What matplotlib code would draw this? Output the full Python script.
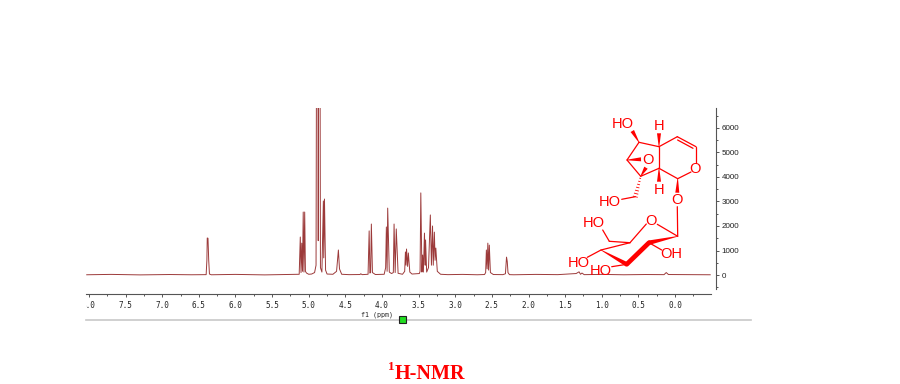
"""1H-NMR spectrum with the structure drawn over it."""
import matplotlib
matplotlib.use("Agg")
import matplotlib.pyplot as plt
import numpy as np
from matplotlib.patches import Polygon, Rectangle
from matplotlib.ticker import MultipleLocator
from matplotlib.transforms import Bbox

# spectrum (ppm descending, intensity)
spec_ppm = [8.03, 7.7, 7.3, 6.9, 6.6, 6.40, 6.39, 6.385, 6.375, 6.365, 6.355, 6.33, 6.0, 5.6, 5.3, 5.13,
            5.115, 5.105, 5.095, 5.085, 5.075, 5.065, 5.055, 5.045, 5.03, 5.00, 4.96, 4.92, 4.90, 4.886, 4.88,
            4.87, 4.858, 4.852, 4.84, 4.82, 4.80, 4.795, 4.785, 4.77, 4.75, 4.67, 4.62, 4.595, 4.58, 4.55,
            4.45, 4.30, 4.29, 4.27, 4.19, 4.175, 4.165, 4.155, 4.145, 4.13, 4.09, 3.97, 3.95, 3.94, 3.93,
            3.922, 3.90, 3.87, 3.845, 3.835, 3.82, 3.805, 3.78, 3.72, 3.69, 3.68, 3.672, 3.665, 3.65, 3.64, 3.62,
            3.59, 3.49, 3.48, 3.47, 3.455, 3.445, 3.435, 3.42, 3.41, 3.405, 3.39, 3.365, 3.34, 3.325, 3.31,
            3.30, 3.285, 3.275, 3.265, 3.245, 3.20, 3.1, 2.9, 2.7, 2.60, 2.585, 2.575, 2.565, 2.555, 2.545,
            2.535, 2.52, 2.48, 2.35, 2.315, 2.30, 2.29, 2.28, 2.26, 2.2, 1.9, 1.6, 1.35, 1.31, 1.29,
            1.27, 1.24, 1.0, 0.7, 0.4, 0.15, 0.12, 0.09, -0.2, -0.48]
spec_int = [10, 25, 5, 20, 10, 15, 600, 1510, 1500, 600, 40, 10, 25, 5, 20, 30,
            1550, 100, 1300, 150, 2570, 120, 2570, 150, 80, 30, 40, 100, 400, 20000, 20000,
            1400, 20000, 20000, 300, 120, 3020, 700, 3100, 200, 40, 30, 150, 1020, 250, 30,
            15, 20, 50, 15, 30, 1800, 80, 100, 2080, 100, 20, 30, 300, 1960, 150,
            2730, 120, 60, 100, 2080, 100, 1880, 70, 30, 150, 940, 400, 1060, 350, 900, 120,
            40, 60, 150, 3350, 120, 816, 120, 1710, 400, 1430, 120, 300, 2450, 400, 2000,
            400, 1750, 600, 1100, 150, 30, 15, 25, 10, 20, 100, 1020, 250, 1300, 200,
            1220, 100, 20, 15, 50, 730, 550, 100, 15, 10, 25, 15, 60, 130, 30,
            80, 15, 25, 10, 20, 15, 100, 20, 15, 10]

x_ticks = [8.0, 7.5, 7.0, 6.5, 6.0, 5.5, 5.0, 4.5, 4.0, 3.5, 3.0, 2.5, 2.0, 1.5, 1.0, 0.5, 0.0]
y_ticks = [0, 1000, 2000, 3000, 4000, 5000, 6000]

W, H = 900, 384
RED = "#ff0000"

fig = plt.figure(figsize=(W / 100, H / 100), dpi=100)
ax = fig.add_axes([86 / W, 1 - 294.3 / H, 625 / W, 186.3 / H])
ax.plot(spec_ppm, spec_int, color="#9c3a3a", linewidth=0.7)
ax.set_xlim(8.04, -0.491)
ax.set_ylim(-787, 6814)

for side in ("top", "left"):
    ax.spines[side].set_visible(False)
ax.spines["bottom"].set_color("#555555")
ax.spines["right"].set_color("#555555")
ax.spines["right"].set_position(("outward", 3.6))
ax.spines["right"].set_bounds(-575, 6814)

ax.set_xticks(x_ticks)
ax.set_xticklabels([f"{t:.1f}" for t in x_ticks], family="DejaVu Sans Mono", fontsize=5.5, color="#222222")
ax.xaxis.set_minor_locator(MultipleLocator(0.25))
ax.tick_params(axis="x", which="major", length=2.5, width=0.7, color="#555555", pad=2)
ax.tick_params(axis="x", which="minor", length=1.2, width=0.7, color="#555555")
ax.yaxis.tick_right()
ax.set_yticks(y_ticks)
ax.set_yticklabels([str(t) for t in y_ticks], family="Liberation Sans", fontsize=5.8, color="#222222")
ax.yaxis.set_minor_locator(MultipleLocator(500))
ax.tick_params(axis="y", which="major", length=2.5, width=0.7, color="#555555", pad=1.5)
ax.tick_params(axis="y", which="minor", length=1.2, width=0.7, color="#555555")

# the leftmost tick label is cut off at the frame edge in the source
first = ax.get_xticklabels()[0]
first.set_clip_box(Bbox([[86, 0], [120, H]]))
first.set_clip_on(True)

# overlay in pixel coordinates for the structure and page furniture
over = fig.add_axes([0, 0, 1, 1], facecolor="none")
over.set_xlim(0, W)
over.set_ylim(H, 0)
over.axis("off")

over.plot([86, 751], [319.5, 319.5], color="#c8c8c8", linewidth=1.2)
over.add_patch(Rectangle((398.5, 316), 7, 6.5, facecolor="#22dd22", edgecolor="#222222", linewidth=0.8, zorder=3))
over.text(377, 315, "f1 (ppm)", family="DejaVu Sans Mono", fontsize=4.8, ha="center", va="center", color="#222222")

over.text(395, 379, "H-NMR", family="Liberation Serif", weight="bold", fontsize=14.5, color=RED, ha="left", va="baseline")
over.text(388, 370, "1", family="Liberation Serif", weight="bold", fontsize=9.5, color=RED, ha="left", va="baseline")

bonds = [
    ((639, 142.3), (659, 146.7)), ((639, 142.3), (627, 160)), ((627, 160), (640.7, 176.3)),
    ((659, 146.7), (659, 168.3)), ((659, 146.7), (677.3, 136.7)), ((677.3, 136.7), (696, 146.7)),
    ((677.6, 140), (693, 148.3)), ((696, 146.7), (696, 163)), ((691, 172), (677.7, 178.7)),
    ((677.7, 178.7), (659, 168.3)), ((659, 168.3), (640.7, 176.3)),
    ((635.3, 196.7), (621.7, 199.3)), ((677.3, 206.7), (677.7, 236.3)),
    ((657.3, 224.3), (677.7, 236.3)), ((646.3, 224), (630, 242.7)), ((630, 242.7), (609.3, 241.3)),
    ((609.3, 241.3), (602.7, 230)), ((630, 242.7), (601, 250)),
    ((649, 242.7), (661.7, 250)), ((626.7, 264.3), (611.7, 266.7)), ((601, 250), (587.3, 257.3)),
]
for p0, p1 in bonds:
    over.plot([p0[0], p1[0]], [p0[1], p1[1]], color=RED, linewidth=0.9, solid_capstyle="round")


def wedge(p0, p1, width, w0=0.3):
    """Filled stereo bond, narrow at p0 and wide at p1."""
    a, b = np.array(p0), np.array(p1)
    n = np.array([-(b - a)[1], (b - a)[0]]) / np.linalg.norm(b - a)
    over.add_patch(Polygon([a + n * w0, a - n * w0, b - n * width / 2, b + n * width / 2], color=RED, linewidth=0))


wedge((639, 142.3), (632.3, 131), 4)
wedge((659, 146.7), (659, 133.3), 4)
wedge((659, 168.3), (659, 181.7), 4)
wedge((627, 160), (641, 159.3), 4)
wedge((640.7, 176.3), (646, 167.7), 4)
wedge((677.7, 178.7), (677.3, 192.7), 4)
wedge((677.7, 236.3), (649, 242.7), 4.5)
wedge((601, 250), (626.7, 264.3), 4.5)
over.plot([649, 626.7], [242.7, 264.3], color=RED, linewidth=3.4, solid_capstyle="round")

# hashed bond down to the CH2OH
g, end = np.array((640.7, 176.3)), np.array((635.3, 196.7))
normal = np.array([-(end - g)[1], (end - g)[0]]) / np.linalg.norm(end - g)
for f in np.linspace(0.1, 1, 7):
    c = g + (end - g) * f
    half = 0.3 + 1.8 * f
    over.plot(*zip(c - normal * half, c + normal * half), color=RED, linewidth=0.6)

labels = [
    (622.7, 123.5, "HO"), (659, 125.5, "H"), (659, 189.5, "H"), (695.3, 169, "O"), (648.3, 160, "O"),
    (610, 202, "HO"), (677.3, 200.3, "O"), (651.3, 220.7, "O"), (593.3, 222.7, "HO"),
    (671.7, 254, "OH"), (601, 270.7, "HO"), (578.3, 262.7, "HO"),
]
for x, y, s in labels:
    over.text(x, y, s, family="Liberation Sans", fontsize=10.5, color=RED, ha="center", va="center")

fig.savefig("out.png", dpi=100)
